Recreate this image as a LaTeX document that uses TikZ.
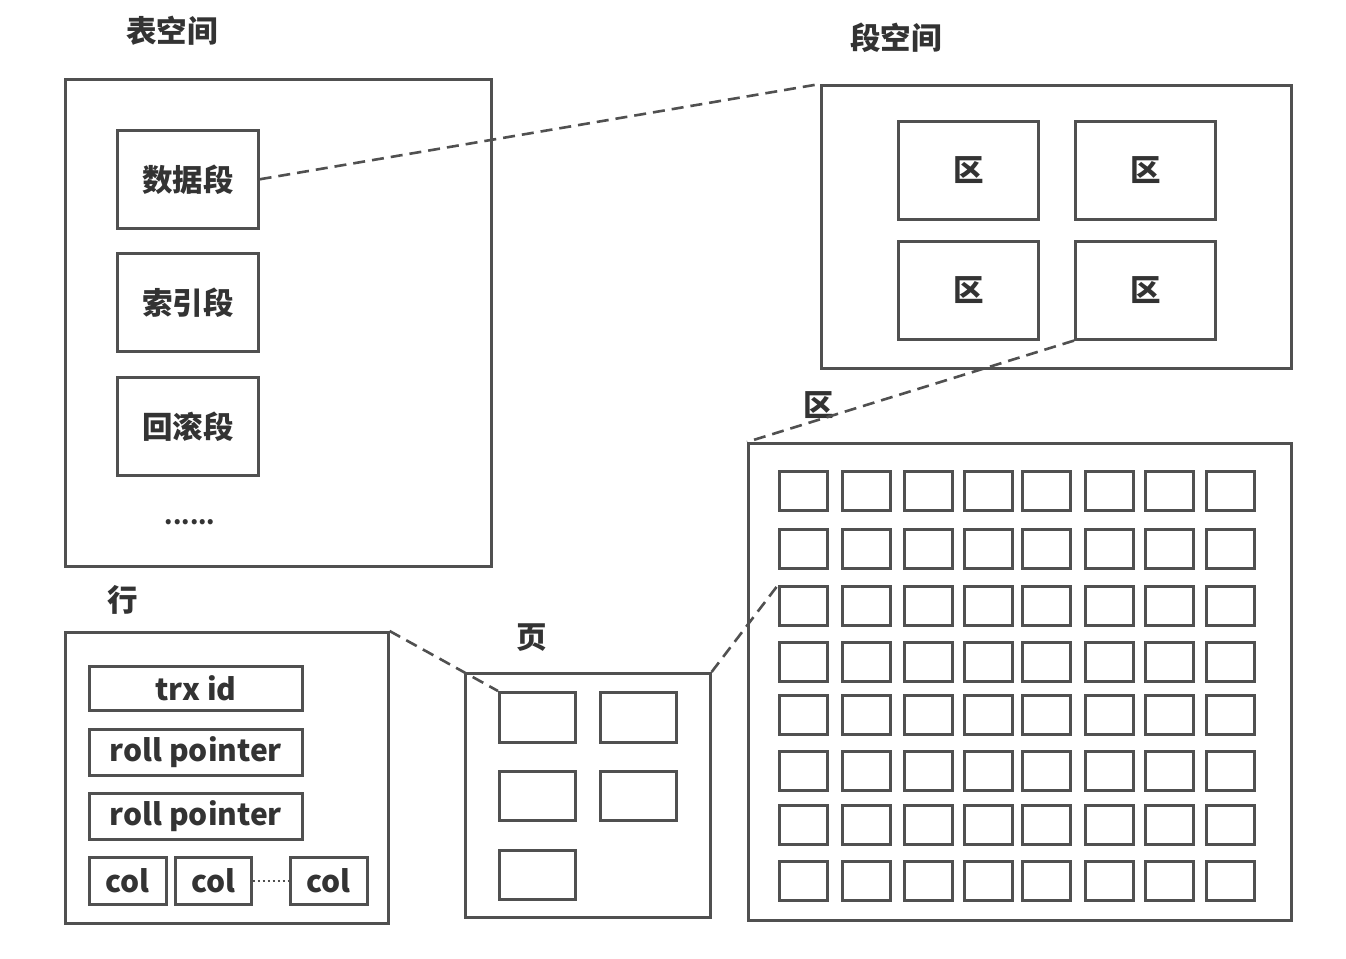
\documentclass[tikz,border=0pt]{standalone}
\usepackage{fontspec}
\setmainfont{Noto Sans CJK SC}
\definecolor{lc}{HTML}{505050}
\definecolor{tc}{HTML}{333333}
\begin{document}
\begin{tikzpicture}[x=1pt,y=-1pt,
  box/.style={draw=lc, line width=2.6pt, rectangle, inner sep=0pt, anchor=north west, text=tc},
  cjk/.style={text=tc, font=\bfseries\fontsize{30.5}{34}\selectfont},
  lat/.style={font=\bfseries\fontsize{30}{34}\selectfont},
  link/.style={draw=lc, line width=2.6pt, dash pattern=on 12pt off 7pt},
  dotlink/.style={draw=lc, line width=2pt, dash pattern=on 2pt off 3pt}]
\useasboundingbox (0,0) rectangle (1346,958);
\fill[white] (0,0) rectangle (1346,958);

% ---- tablespace
\node[cjk] (tsT) at (172,31) {表空间};
\node[box, minimum width=426pt, minimum height=487pt] (ts) at (64,78) {};
\node[box, cjk, minimum width=141pt, minimum height=98pt] (ds) at (116,129) {数据段};
\node[box, cjk, minimum width=141pt, minimum height=98pt] (is) at (116,252) {索引段};
\node[box, cjk, minimum width=141pt, minimum height=98pt] (rs) at (116,376) {回滚段};
\node[text=tc, font=\bfseries\fontsize{24}{26}\selectfont] (dots) at (190,522) {......};

% ---- segment space
\node[cjk] (ssT) at (896,38) {段空间};
\node[box, minimum width=470pt, minimum height=283pt] (seg) at (820,84) {};
\node[box, cjk, minimum width=140pt, minimum height=98pt] (q1) at (897,120) {区};
\node[box, cjk, minimum width=140pt, minimum height=98pt] (q2) at (1074,120) {区};
\node[box, cjk, minimum width=140pt, minimum height=98pt] (q3) at (897,240) {区};
\node[box, cjk, minimum width=140pt, minimum height=98pt] (q4) at (1074,240) {区};

% ---- extent
\node[cjk] (extT) at (819,405) {区};
\node[box, minimum width=543pt, minimum height=477pt] (ext) at (747,442) {};
\foreach \r/\y in {1/470,2/528,3/585,4/641,5/694,6/750,7/804,8/860}{
  \foreach \c/\x in {1/778,2/841,3/903,4/963,5/1021,6/1084,7/1144,8/1205}{
    \node[box, minimum width=48pt, minimum height=39pt] (g-\r-\c) at (\x,\y) {};
  }
}

% ---- row
\node[cjk] (rowT) at (123,600) {行};
\node[box, minimum width=323pt, minimum height=291pt] (row) at (64,631) {};
\node[box, lat, minimum width=213pt, minimum height=44pt] (trx) at (88,665) {trx id};
\node[box, lat, minimum width=213pt, minimum height=46pt] (rp1) at (88,728) {roll pointer};
\node[box, lat, minimum width=213pt, minimum height=46pt] (rp2) at (88,792) {roll pointer};
\node[box, lat, minimum width=77pt, minimum height=47pt] (c1) at (88,856) {col};
\node[box, lat, minimum width=76pt, minimum height=47pt] (c2) at (174,856) {col};
\node[box, lat, minimum width=77pt, minimum height=47pt] (c3) at (289,856) {col};

% ---- page
\node[cjk] (pgT) at (532,638) {页};
\node[box, minimum width=245pt, minimum height=244pt] (pg) at (464,672) {};
\node[box, minimum width=76pt, minimum height=50pt] (p1) at (498,691) {};
\node[box, minimum width=76pt, minimum height=50pt] (p2) at (599,691) {};
\node[box, minimum width=76pt, minimum height=49pt] (p3) at (498,770) {};
\node[box, minimum width=76pt, minimum height=49pt] (p4) at (599,770) {};
\node[box, minimum width=76pt, minimum height=49pt] (p5) at (498,849) {};

% ---- connectors
\draw[link] (ds.east) -- (seg.north west);
\draw[link] (q4.south west) -- (ext.north west);
\draw[link] (row.north east) -- (p1.north west);
\draw[link] (pg.north east) -- (g-3-1.north west);
\draw[dotlink] (c2.east) -- (c3.west);
\end{tikzpicture}
\end{document}
